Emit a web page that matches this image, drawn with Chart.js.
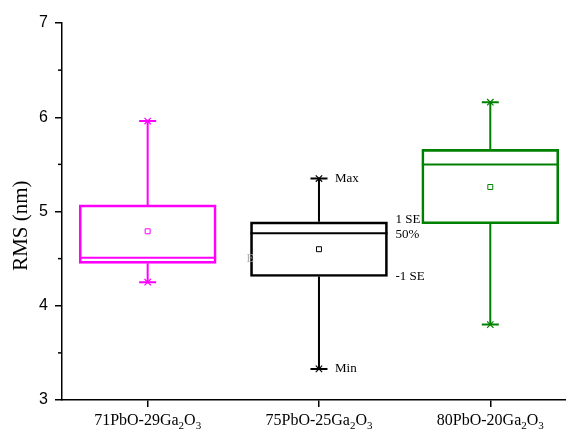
<!DOCTYPE html>
<html><head><meta charset="utf-8">
<script src="https://cdn.jsdelivr.net/npm/chart.js@4"></script>
<style>html,body{margin:0;padding:0;background:#fff;overflow:hidden}#wrap{width:570px;height:433px;position:relative}</style>
</head><body><div id="wrap"><canvas id="c"></canvas></div>
<script>
// ---- data ----
const categories = ['71PbO-29Ga_2O_3', '75PbO-25Ga_2O_3', '80PbO-20Ga_2O_3'];
const q1     = [4.45, 4.31, 4.87];   // -1 SE (box bottom)
const q3     = [5.07, 4.89, 5.66];   // 1 SE (box top)
const median = [4.51, 4.77, 5.50];
const mean   = [4.79, 4.60, 5.26];
const maxV   = [5.96, 5.35, 6.16];
const minV   = [4.25, 3.33, 3.80];
const yTicks = [3, 4, 5, 6, 7];
const yMinor = [3.5, 4.5, 5.5, 6.5];
const yTitle = 'RMS (nm)';
const colors = ['#FF00FF', '#000000', '#008000'];
const annot  = {max: 'Max', se1: '1 SE', p50: '50%', seM: '-1 SE', min: 'Min'};

const boxWidth = 137;

const boxPlugin = {
  id: 'boxExtras',
  afterDatasetsDraw(chart) {
    const ctx = chart.ctx, xs = chart.scales.x, ys = chart.scales.y;
    ctx.save();
    // minor y ticks
    ctx.strokeStyle = '#000'; ctx.lineWidth = 1.5;
    yMinor.forEach(v => {
      const y = ys.getPixelForValue(v);
      ctx.beginPath(); ctx.moveTo(xs.left - 4, y); ctx.lineTo(xs.left, y); ctx.stroke();
    });
    categories.forEach((c, i) => {
      const cx = xs.getPixelForValue(i + 1);
      const col = colors[i];
      ctx.strokeStyle = col; ctx.lineWidth = 2;
      const half = boxWidth / 2;
      const ym = ys.getPixelForValue(median[i]);
      ctx.beginPath(); ctx.moveTo(cx - half, ym); ctx.lineTo(cx + half, ym); ctx.stroke();
      const yTop = ys.getPixelForValue(q3[i]), yBot = ys.getPixelForValue(q1[i]);
      const yMax = ys.getPixelForValue(maxV[i]), yMin = ys.getPixelForValue(minV[i]);
      ctx.beginPath();
      ctx.moveTo(cx, yTop); ctx.lineTo(cx, yMax);
      ctx.moveTo(cx, yBot); ctx.lineTo(cx, yMin);
      ctx.moveTo(cx - 8.5, yMax); ctx.lineTo(cx + 8.5, yMax);
      ctx.moveTo(cx - 8.5, yMin); ctx.lineTo(cx + 8.5, yMin);
      ctx.stroke();
      ctx.lineWidth = 1.2;
      [yMax, yMin].forEach(y => {
        ctx.beginPath();
        ctx.moveTo(cx - 3.2, y - 3.2); ctx.lineTo(cx + 3.2, y + 3.2);
        ctx.moveTo(cx - 3.2, y + 3.2); ctx.lineTo(cx + 3.2, y - 3.2);
        ctx.stroke();
      });
    });
    // annotations on middle box
    const i = 1;
    const cx = xs.getPixelForValue(i + 1);
    const rx = cx + boxWidth / 2;
    ctx.fillStyle = '#000';
    ctx.font = '13px "Liberation Serif", "Times New Roman", serif';
    ctx.textBaseline = 'middle'; ctx.textAlign = 'left';
    ctx.fillText(annot.max, cx + 16, ys.getPixelForValue(maxV[i]));
    ctx.fillText(annot.se1, rx + 8, ys.getPixelForValue(q3[i]) - 2);
    ctx.fillText(annot.p50, rx + 8, ys.getPixelForValue(median[i]) + 1);
    ctx.fillText(annot.seM, rx + 8, ys.getPixelForValue(q1[i]));
    ctx.fillText(annot.min, cx + 16, ys.getPixelForValue(minV[i]));
    // faint artifact
    ctx.fillStyle = '#b0b0b0';
    ctx.font = '12px "Liberation Serif", serif';
    ctx.fillText('E', cx - boxWidth / 2 - 4, ys.getPixelForValue(q1[i]) - 18);
    // y title
    ctx.fillStyle = '#000';
    ctx.save();
    ctx.translate(21, ys.getPixelForValue(4.85));
    ctx.rotate(-Math.PI / 2);
    ctx.textAlign = 'center'; ctx.textBaseline = 'middle';
    ctx.font = '21px "Liberation Serif", "Times New Roman", serif';
    ctx.fillText(yTitle, 0, 0);
    ctx.restore();
    // x labels with subscripts
    ctx.textAlign = 'left';
    ctx.textBaseline = 'alphabetic';
    const mainFont = '16px "Liberation Serif", "Times New Roman", serif';
    const subFont = '11px "Liberation Serif", "Times New Roman", serif';
    categories.forEach((c, k) => {
      const parts = [];
      const re = /_(\d)/g; let last = 0, m;
      while ((m = re.exec(c))) {
        if (m.index > last) parts.push({t: c.slice(last, m.index), sub: false});
        parts.push({t: m[1], sub: true}); last = re.lastIndex;
      }
      if (last < c.length) parts.push({t: c.slice(last), sub: false});
      let w = 0;
      parts.forEach(p => { ctx.font = p.sub ? subFont : mainFont; p.w = ctx.measureText(p.t).width; w += p.w; });
      let x = xs.getPixelForValue(k + 1) - w / 2;
      const base = ys.bottom + 25;
      parts.forEach(p => {
        ctx.font = p.sub ? subFont : mainFont;
        ctx.fillText(p.t, x, p.sub ? base + 4 : base);
        x += p.w;
      });
    });
    ctx.restore();
  }
};

new Chart(document.getElementById('c'), {
  data: {
    datasets: [
      {
        type: 'bar',
        data: categories.map((c, i) => ({x: i + 1, y: [q1[i], q3[i]]})),
        backgroundColor: 'rgba(0,0,0,0)',
        borderColor: colors,
        borderWidth: 2,
        borderSkipped: false,
        barThickness: boxWidth
      },
      {
        type: 'scatter',
        data: categories.map((c, i) => ({x: i + 1, y: mean[i]})),
        pointStyle: 'rect',
        pointRadius: 3.5,
        pointHoverRadius: 3.5,
        borderWidth: 1,
        borderColor: colors,
        backgroundColor: '#fff'
      }
    ]
  },
  options: {
    responsive: true,
    maintainAspectRatio: false,
    animation: false,
    events: [],
    layout: {padding: {top: 23, left: 0, right: 0, bottom: 0}},
    plugins: {legend: {display: false}, tooltip: {enabled: false}},
    scales: {
      x: {
        type: 'linear',
        offset: false,
        min: 0.5,
        max: 3.439,
        afterBuildTicks: s => { s.ticks = categories.map((c, i) => ({value: i + 1})); },
        afterFit: s => { s.height = 33; },
        ticks: {display: false},
        grid: {display: true, offset: false, drawOnChartArea: false, drawTicks: true, tickLength: 7, color: '#000', lineWidth: 1.5},
        border: {display: true, color: '#000', width: 1.5}
      },
      y: {
        min: 3,
        max: 7,
        afterBuildTicks: s => { s.ticks = yTicks.map(v => ({value: v})); },
        afterFit: s => { s.width = 62; },
        ticks: {color: '#000', padding: 7, font: {family: '"Liberation Sans", Arial, sans-serif', size: 16}},
        grid: {display: true, drawOnChartArea: false, drawTicks: true, tickLength: 7, color: '#000', lineWidth: 1.5},
        border: {display: true, color: '#000', width: 1.5}
      }
    }
  },
  plugins: [boxPlugin]
});
</script>
</body></html>
